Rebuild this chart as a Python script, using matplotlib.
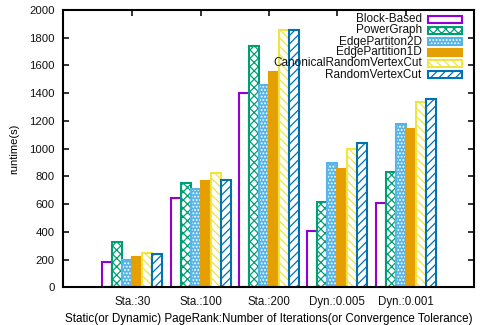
import matplotlib
matplotlib.use("Agg")
import matplotlib.pyplot as plt
from matplotlib.patches import Rectangle
import numpy as np

plt.rcParams['font.family'] = ['Liberation Sans', 'DejaVu Sans']
plt.rcParams['hatch.linewidth'] = 0.9

categories = ["Sta.:30", "Sta.:100", "Sta.:200", "Dyn.:0.005", "Dyn.:0.001"]
series_names = ["Block-Based", "PowerGraph", "EdgePartiton2D", "EdgePartition1D",
                "CanonicalRandomVertexCut", "RandomVertexCut"]
block_based = [180, 643, 1398, 405, 606]
power_graph = [328, 755, 1742, 618, 830]
edge_2d = [198, 712, 1456, 900, 1178]
edge_1d = [217, 770, 1552, 852, 1145]
canonical_rvc = [245, 823, 1853, 997, 1333]
random_vc = [240, 776, 1853, 1040, 1356]
yticks = [0, 200, 400, 600, 800, 1000, 1200, 1400, 1600, 1800, 2000]

series = [block_based, power_graph, edge_2d, edge_1d, canonical_rvc, random_vc]
colors = ['#9400d3', '#009e73', '#56b4e9', '#e69f00', '#f0e442', '#0072b2']

# style per series: (facecolor, edgecolor, hatch)
styles = [
    dict(facecolor='white', edgecolor=colors[0], hatch=None),
    dict(facecolor='white', edgecolor=colors[1], hatch='xxxx'),
    dict(facecolor=colors[2], edgecolor='white', hatch='.....'),
    dict(facecolor=colors[3], edgecolor=colors[3], hatch=None),
    dict(facecolor='white', edgecolor=colors[4], hatch='\\\\\\\\'),
    dict(facecolor='white', edgecolor=colors[5], hatch='////'),
]

fig = plt.figure(figsize=(4.8, 3.25), dpi=100)
ax = fig.add_axes([63.3 / 480, 1 - 287.3 / 325, (474 - 63.3) / 480, (287.3 - 10) / 325])

x = np.arange(len(categories))
bw = 0.146
lw = 1.5
for i, vals in enumerate(series):
    pos = x + (i - 2.5) * bw
    st = styles[i]
    if i == 2:
        ax.bar(pos, vals, bw, facecolor=st['facecolor'], edgecolor='white',
               hatch=st['hatch'], linewidth=0, zorder=2)
        ax.bar(pos, vals, bw, fill=False, edgecolor=colors[2], linewidth=lw, zorder=2)
    else:
        ax.bar(pos, vals, bw, facecolor=st['facecolor'], edgecolor=st['edgecolor'],
               hatch=st['hatch'], linewidth=lw, zorder=2)

ax.set_xlim(-1.01, 5.0)
ax.set_ylim(0, 2000)
ax.set_yticks(yticks)
ax.set_xticks(x)
ax.set_xticklabels(categories)
ax.tick_params(axis='y', direction='in', length=4, width=1.2, right=True,
               labelsize=8.2, colors='#111111', pad=6)
ax.tick_params(axis='x', direction='in', length=4, width=1.2, top=True,
               bottom=False, labelsize=8.3, colors='#111111', pad=6)
for s in ax.spines.values():
    s.set_linewidth(1.5)
    s.set_zorder(5)

ax.set_ylabel("runtime(s)", fontsize=8)
ax.yaxis.set_label_coords(-0.108, 0.5)
ax.set_xlabel("Static(or Dynamic) PageRank:Number of Iterations(or Convergence Tolerance)",
              fontsize=8.4, labelpad=4)

# gnuplot-style legend (text right-aligned, sample on right)
ax_h = 287.3 - 10
for k, name in enumerate(series_names):
    yc = 1 - (19.5 + k * 11.0 - 10) / ax_h
    ax.text(0.8727, yc, name, transform=ax.transAxes, ha='right', va='center',
            fontsize=8.5, color='#111111', zorder=6)
    st = styles[k]
    h = 6.0 / ax_h
    if k == 2:
        r = Rectangle((0.8873, yc - h / 2), 0.083, h, transform=ax.transAxes,
                      facecolor=st['facecolor'], edgecolor='white', hatch=st['hatch'],
                      linewidth=0, zorder=6)
        ax.add_patch(r)
        r2 = Rectangle((0.8873, yc - h / 2), 0.083, h, transform=ax.transAxes,
                       fill=False, edgecolor=colors[2], linewidth=lw, zorder=6)
        ax.add_patch(r2)
    else:
        r = Rectangle((0.8873, yc - h / 2), 0.083, h, transform=ax.transAxes,
                      facecolor=st['facecolor'], edgecolor=st['edgecolor'],
                      hatch=st['hatch'], linewidth=lw, zorder=6)
        ax.add_patch(r)

fig.savefig("out.png", dpi=100)
